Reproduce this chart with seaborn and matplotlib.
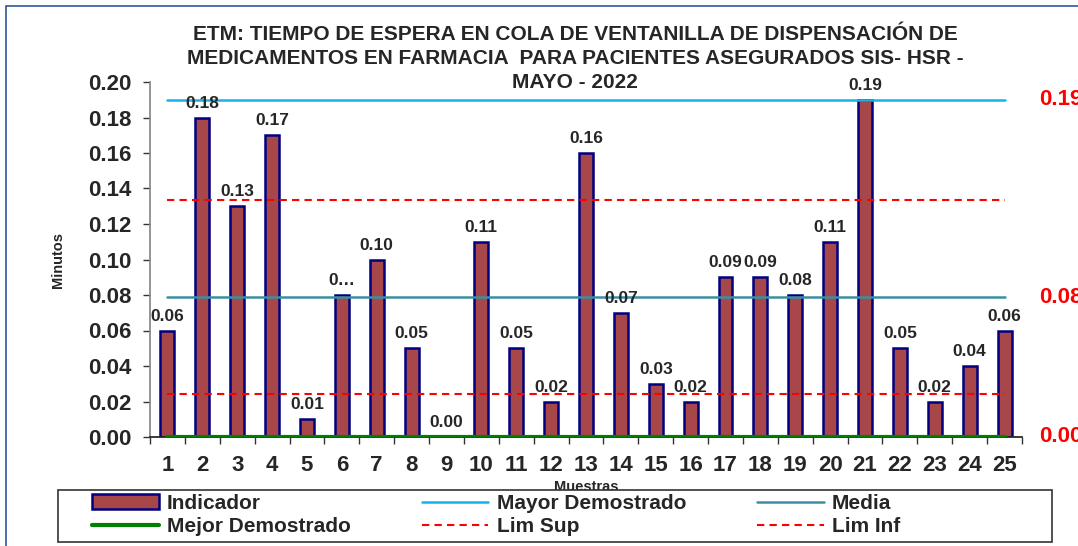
import matplotlib
matplotlib.use("Agg")
import matplotlib.pyplot as plt
from matplotlib.patches import Rectangle
from matplotlib.ticker import FixedLocator
import pandas as pd
import seaborn as sns

MUESTRAS = [str(i) for i in range(1, 26)]
INDICADOR = [0.06, 0.18, 0.13, 0.17, 0.01, 0.08, 0.10, 0.05, 0.00, 0.11,
             0.05, 0.02, 0.16, 0.07, 0.03, 0.02, 0.09, 0.09, 0.08, 0.11,
             0.19, 0.05, 0.02, 0.04, 0.06]
MAYOR_DEMOSTRADO = 0.19
MEDIA = 0.0788
MEJOR_DEMOSTRADO = 0.00
LIM_SUP = 0.1335
LIM_INF = 0.0242
RIGHT_LABELS = [("0.19", 0.19), ("0.08", 0.0788), ("0.00", 0.0)]

sns.set_theme(style="white")
plt.rcParams["font.family"] = ["Liberation Sans", "DejaVu Sans"]
plt.rcParams["font.weight"] = "bold"

df = pd.DataFrame({"muestra": MUESTRAS, "indicador": INDICADOR})
lines = pd.DataFrame({
    "muestra": list(range(25)),
    "Mayor Demostrado": [MAYOR_DEMOSTRADO] * 25,
    "Media": [MEDIA] * 25,
    "Mejor Demostrado": [MEJOR_DEMOSTRADO] * 25,
    "Lim Sup": [LIM_SUP] * 25,
    "Lim Inf": [LIM_INF] * 25,
})

fig = plt.figure(figsize=(10.78, 5.46), dpi=100)
ax = fig.add_axes([150 / 1078, 1 - 437 / 546, 872 / 1078, 355 / 546])

sns.barplot(data=df, x="muestra", y="indicador", ax=ax, color="#A8474A",
            width=0.4, edgecolor="#000080", linewidth=1.8, saturation=1,
            label="Indicador", zorder=2)

line_styles = {
    "Mayor Demostrado": dict(color="#14B4E8", linewidth=1.8, linestyle="-"),
    "Media": dict(color="#3A8FA3", linewidth=1.8, linestyle="-"),
    "Mejor Demostrado": dict(color="#008000", linewidth=3, linestyle="-"),
    "Lim Sup": dict(color="#FF0000", linewidth=1.5, linestyle=(0, (3.5, 2.5))),
    "Lim Inf": dict(color="#FF0000", linewidth=1.5, linestyle=(0, (3.5, 2.5))),
}
for name, kw in line_styles.items():
    sns.lineplot(data=lines, x="muestra", y=name, ax=ax, label=name, zorder=3, **kw)
ax.legend_.remove()

# data labels
for i, v in enumerate(INDICADOR):
    txt = "0…" if i == 5 else f"{v:.2f}"
    ax.annotate(txt, (i, v), xytext=(0, 5), textcoords="offset points",
                ha="center", va="bottom", fontsize=12.5, fontweight="bold")

for txt, y in RIGHT_LABELS:
    ax.text(25.0, y, txt, color="#FF0000", fontsize=16, fontweight="bold",
            ha="left", va="center", clip_on=False)

ax.set_ylim(0, 0.20)
ax.set_xlim(-0.5, 24.5)
ax.set_yticks([i / 100 for i in range(0, 21, 2)])
ax.set_yticklabels([f"{i / 100:.2f}" for i in range(0, 21, 2)])
ax.xaxis.set_minor_locator(FixedLocator([i - 0.5 for i in range(26)]))
ax.tick_params(axis="x", which="major", length=0, pad=13, labelsize=16)
ax.tick_params(axis="x", which="minor", length=5, width=1, color="#333333",
               direction="out", bottom=True)
ax.tick_params(axis="y", length=5, width=1, color="#333333", direction="out",
               left=True, pad=8, labelsize=16)
for lab in ax.get_xticklabels() + ax.get_yticklabels():
    lab.set_fontweight("bold")

ax.spines["top"].set_visible(False)
ax.spines["right"].set_visible(False)
ax.spines["left"].set_color("#888888")
ax.spines["bottom"].set_color("#222222")

ax.set_xlabel("Muestras", fontsize=10.5, fontweight="bold", labelpad=3)
ax.set_ylabel("Minutos", fontsize=10.5, fontweight="bold", labelpad=17)

fig.text(575 / 1078, 1 - 25 / 546,
         "ETM: TIEMPO DE ESPERA EN COLA DE VENTANILLA DE DISPENSACIÓN DE\n"
         "MEDICAMENTOS EN FARMACIA  PARA PACIENTES ASEGURADOS SIS- HSR -\n"
         "MAYO - 2022",
         ha="center", va="top", fontsize=15, fontweight="bold",
         linespacing=1.35)

handles, labels = ax.get_legend_handles_labels()
order = ["Indicador", "Mejor Demostrado", "Mayor Demostrado", "Lim Sup", "Media", "Lim Inf"]
hmap = dict(zip(labels, handles))
leg = fig.legend([hmap[k] for k in order], order, ncol=3,
                 loc="center left", bbox_to_anchor=(92 / 1078, 1 - 515 / 546),
                 frameon=False, fontsize=15, handlelength=3.2,
                 borderpad=0, labelspacing=0.2, handletextpad=0.4,
                 columnspacing=3.4, borderaxespad=0)
for t in leg.get_texts():
    t.set_fontweight("bold")

fig.patches.append(Rectangle((58 / 1078, 1 - 542 / 546), 994 / 1078, 52 / 546,
                             transform=fig.transFigure, facecolor="white",
                             edgecolor="#333333", linewidth=1.2, zorder=1))
fig.patches.append(Rectangle((6 / 1078, -0.1), 1.2, 1 - 6 / 546 + 0.1,
                             transform=fig.transFigure, fill=False,
                             edgecolor="#2F5597", linewidth=1.2))

fig.savefig("out.png", dpi=100)
